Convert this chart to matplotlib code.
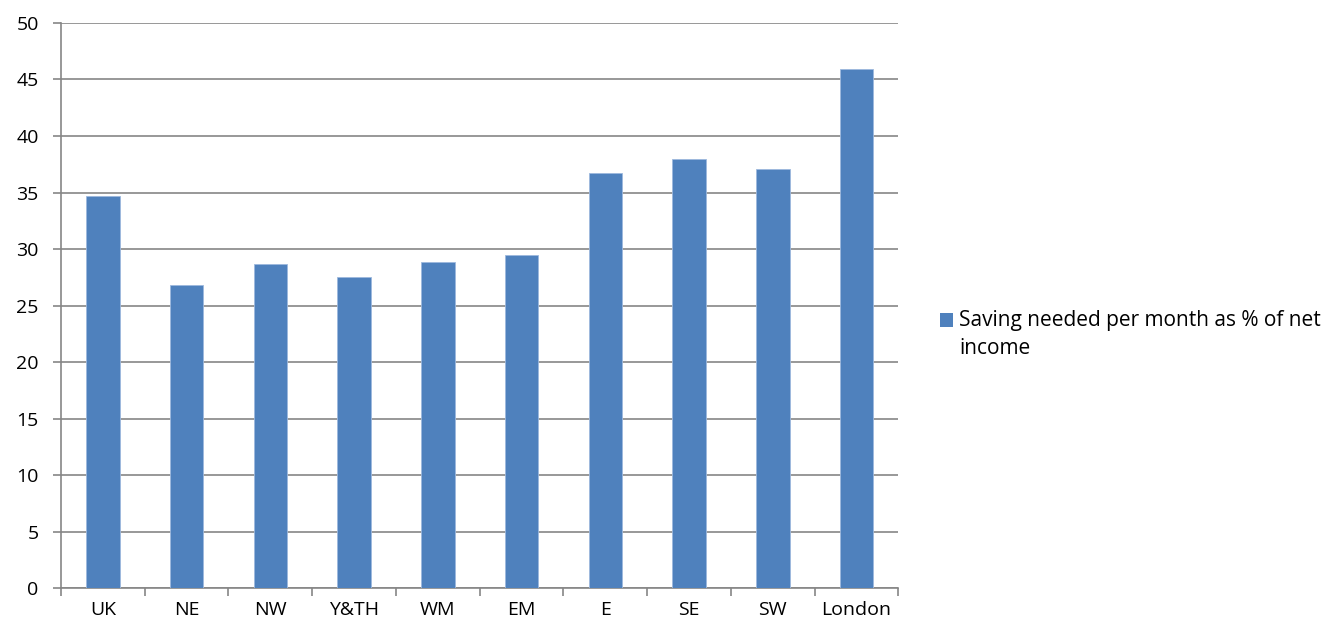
import matplotlib.pyplot as plt
from matplotlib.patches import Rectangle
import numpy as np

plt.rcParams['font.family'] = ['Open Sans', 'DejaVu Sans']

regions = ['UK', 'NE', 'NW', 'Y&TH', 'WM', 'EM', 'E', 'SE', 'SW', 'London']
saving_pct = [34.7, 26.8, 28.7, 27.5, 28.85, 29.5, 36.7, 38.0, 37.05, 45.9]
series_name = 'Saving needed per month as % of net\nincome'

bar_color = '#4F81BD'
grid_color = '#868686'

fig = plt.figure(figsize=(13.43, 6.37), dpi=100)
ax = fig.add_axes([0.0454, 0.0769, 0.6236, 0.887])

x = np.arange(len(regions))
bars = ax.bar(x, saving_pct, width=0.4, color=bar_color, edgecolor='#9DB9DE',
              linewidth=0.6, label=series_name, zorder=3)

ax.set_xlim(-0.5, len(regions) - 0.5)
ax.set_ylim(0, 50)
ax.set_yticks(np.arange(0, 51, 5))
ax.yaxis.grid(True, color=grid_color, linewidth=1.2, zorder=0)

# category boundaries get the tick marks, centres get the labels
ax.set_xticks(np.arange(-0.5, len(regions)), labels=[])
ax.set_xticks(x, labels=regions, minor=True)
ax.tick_params(axis='x', which='major', length=6, width=1.2, color=grid_color, direction='out')
ax.tick_params(axis='x', which='minor', length=0, pad=9, labelsize=14)
ax.tick_params(axis='y', length=6, width=1.2, color=grid_color, labelsize=14, pad=10)

for side in ['top', 'right']:
    ax.spines[side].set_visible(False)
for side in ['left', 'bottom']:
    ax.spines[side].set_color(grid_color)
    ax.spines[side].set_linewidth(1.2)

# legend drawn by hand: square lines up with the first text line, like Excel does
W, H = 1343, 637
fig.patches.append(Rectangle((940 / W, 1 - 327 / H), 13 / W, 14 / H,
                             transform=fig.transFigure, facecolor=bar_color,
                             edgecolor='none'))
fig.text(959 / W, 1 - 310 / H, series_name, fontsize=15, va='top', ha='left',
         linespacing=1.45)

fig.savefig('out.png', dpi=100)
